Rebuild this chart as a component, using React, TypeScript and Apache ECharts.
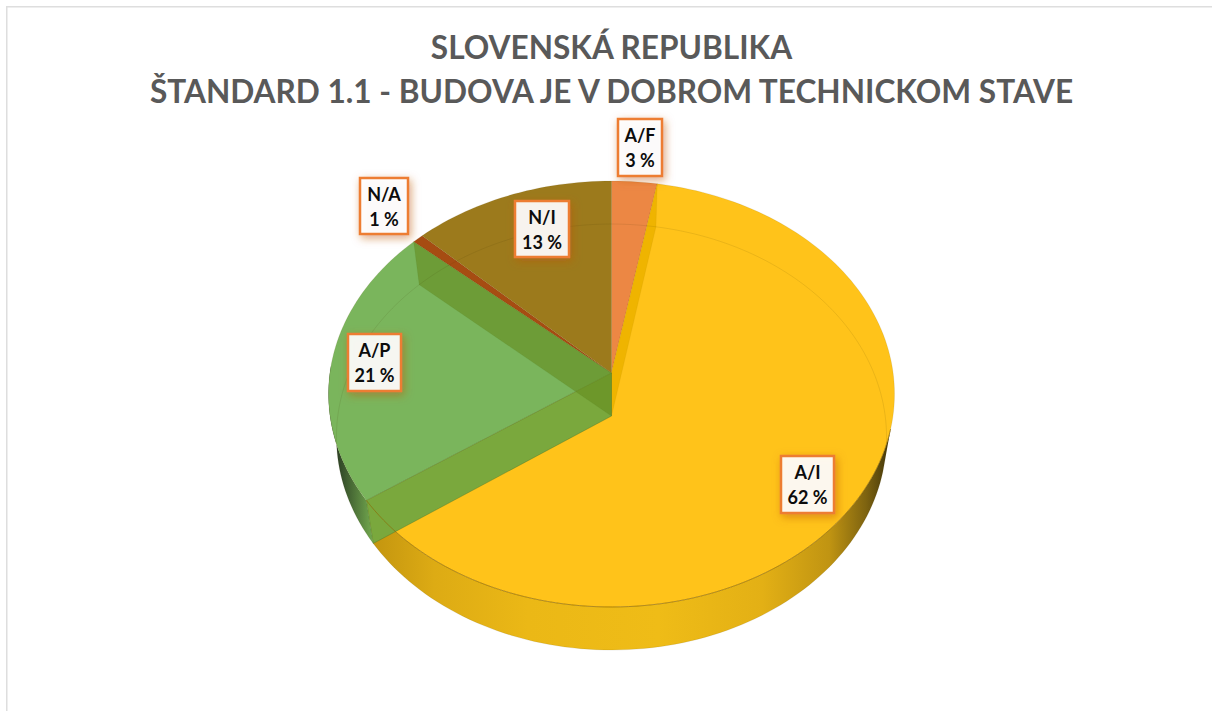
import React, { useEffect, useRef } from "react";
import * as echarts from "echarts";

const titleLines = ["SLOVENSKÁ REPUBLIKA", "ŠTANDARD 1.1 - BUDOVA JE V DOBROM TECHNICKOM STAVE"];
const categories = ["A/F", "A/I", "A/P", "N/A", "N/I"];
const shares = [2.85, 62.49, 21.2, 0.7, 12.76];

const faceColors = ["#EC8744", "#FFC31A", "#7AB55C", "#A64C12", "#9C7A1C"];

const GEO = { cx: 611.5, cy: 373, a: 210.9, b: 281.6, p: -0.0986, depth: 43, shrink: 0.972 };
const LABEL_BOXES = [
  { x: 618, y: 119, w: 44, h: 57 },
  { x: 781, y: 456, w: 53, h: 57 },
  { x: 348, y: 334, w: 53, h: 57 },
  { x: 360, y: 178, w: 48, h: 56 },
  { x: 515, y: 201, w: 54, h: 56 },
];

const total = shares.reduce((s, v) => s + v, 0);
const edges: number[] = [0];
shares.forEach((v) => edges.push(edges[edges.length - 1] + (v / total) * 360));

function proj(deg: number, r: number, level: number): number[] {
  const t = (deg * Math.PI) / 180;
  const u = Math.sin(t) * r;
  const v = -Math.cos(t) * r;
  const d = 1 + GEO.p * v;
  const k = level === 0 ? 1 : GEO.shrink;
  return [GEO.cx + (k * GEO.b * u) / d, GEO.cy + (level ? GEO.depth : 0) + (GEO.a * v) / d];
}

function arc(a0: number, a1: number, level: number): number[][] {
  const n = Math.max(2, Math.ceil(Math.abs(a1 - a0) / 1.5));
  const out: number[][] = [];
  for (let i = 0; i <= n; i++) out.push(proj(a0 + ((a1 - a0) * i) / n, 1, level));
  return out;
}

const hGradient = (x0: number, x1: number, stops: [number, string][]) => ({
  type: "linear",
  x: x0,
  y: 0,
  x2: x1,
  y2: 0,
  global: true,
  colorStops: stops.map(([offset, color]) => ({ offset, color })),
});

const amberSide = hGradient(372, 892, [
  [0, "#C3950F"],
  [0.12, "#DDAB14"],
  [0.3, "#EBB816"],
  [0.55, "#EFBC17"],
  [0.75, "#E3B015"],
  [0.88, "#C09412"],
  [0.95, "#7E6310"],
  [1, "#3D3209"],
]);
const greenSide = hGradient(336, 374, [
  [0, "#2B3E24"],
  [0.4, "#486A35"],
  [1, "#75AD50"],
]);

const WALL_START = 105;
const WALL_END = 272;

const layer = (z: number, draw: (i: number) => any) => ({
  type: "custom",
  coordinateSystem: "none",
  silent: true,
  z,
  data: shares,
  renderItem: (params: any) => draw(params.dataIndex),
});

function outerWall(i: number) {
  if (i === 1) {
    const to = edges[2];
    return {
      type: "polygon",
      shape: { points: [...arc(WALL_START, to, 0), ...arc(to, WALL_START, 1)] },
      style: { fill: amberSide },
    };
  }
  if (i === 2) {
    const from = edges[2];
    return {
      type: "polygon",
      shape: { points: [...arc(from, WALL_END, 0), ...arc(WALL_END, from, 1)] },
      style: { fill: greenSide },
    };
  }
  return { type: "group", children: [] };
}

function face(i: number) {
  return {
    type: "polygon",
    shape: { points: [proj(0, 0, 0), ...arc(edges[i], edges[i + 1], 0)] },
    style: { fill: faceColors[i], stroke: "rgba(90,70,10,0.16)", lineWidth: 0.7 },
  };
}

function wallBetween(deg: number, fill: string, stroke: string) {
  return {
    type: "polygon",
    shape: { points: [proj(0, 0, 0), proj(deg, 1, 0), proj(deg, 1, 1), proj(0, 0, 1)] },
    style: { fill, stroke, lineWidth: 0.7 },
  };
}

function innerWall(i: number) {
  // Each visible cut face of the translucent pie
  if (i === 0) return wallBetween(edges[1], "#EFB400", "rgba(150,110,0,0.12)");
  if (i === 1) return wallBetween(edges[2], "#7AA83D", "rgba(70,110,40,0.5)");
  if (i === 2) return wallBetween(edges[3], "rgba(100,140,30,0.6)", "rgba(70,110,40,0.12)");
  return { type: "group", children: [] };
}

function rims(i: number) {
  const children: any[] = [
    {
      type: "polyline",
      shape: { points: arc(edges[i], edges[i + 1], 1) },
      style: { fill: "none", stroke: "rgba(60,50,0,0.10)", lineWidth: 1 },
    },
  ];
  if (i === 1) {
    children.push({
      type: "polyline",
      shape: { points: arc(WALL_START, edges[2], 0) },
      style: { fill: "none", stroke: "rgba(140,100,0,0.75)", lineWidth: 0.8 },
    });
  }
  return { type: "group", children };
}

function labelBox(i: number) {
  const b = LABEL_BOXES[i];
  return {
    type: "group",
    children: [
      {
        type: "rect",
        shape: { x: b.x, y: b.y, width: b.w, height: b.h },
        style: {
          fill: "rgba(255,255,255,0.9)",
          stroke: "#ED7D31",
          lineWidth: 2.5,
          shadowColor: "rgba(190,90,20,0.55)",
          shadowBlur: 8,
          shadowOffsetX: 2,
          shadowOffsetY: 3,
        },
      },
      {
        type: "text",
        style: {
          x: b.x + b.w / 2,
          y: b.y + b.h / 2,
          text: `${categories[i]}\n${Math.round(shares[i])} %`,
          fill: "#0C0C0C",
          align: "center",
          verticalAlign: "middle",
          fontFamily: "Lato",
          fontWeight: "bold",
          fontSize: 18,
          lineHeight: 25,
        },
      },
    ],
  };
}

export default function App() {
  const ref = useRef<HTMLDivElement>(null);
  useEffect(() => {
    document.body.style.margin = "0";
    const chart = echarts.init(ref.current!, undefined, { renderer: "svg" });
    chart.setOption({
      animation: false,
      backgroundColor: "#FFFFFF",
      title: {
        text: titleLines.join("\n"),
        left: 606.5,
        top: 20,
        textAlign: "center",
        textStyle: {
          fontFamily: "Lato",
          fontWeight: "bold",
          fontSize: 31.6,
          lineHeight: 44,
          color: "#595959",
        },
      },
      graphic: [
        {
          type: "polyline",
          silent: true,
          shape: { points: [[6.75, 711], [6.75, 6.75], [1212, 6.75]] },
          style: { fill: "none", stroke: "#DEDEDE", lineWidth: 1.5 },
        },
      ],
      series: [
        layer(1, outerWall),
        layer(2, face),
        layer(3, innerWall),
        layer(4, rims),
        layer(5, labelBox),
      ],
    });
    return () => chart.dispose();
  }, []);
  return <div ref={ref} style={{ width: 1212, height: 711 }} />;
}
